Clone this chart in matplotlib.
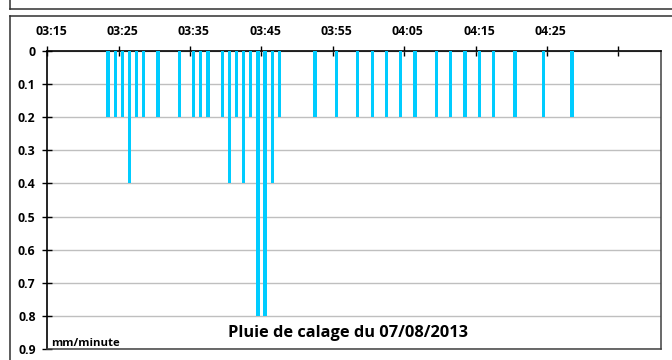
import numpy as np
import matplotlib
matplotlib.use("Agg")
import matplotlib.pyplot as plt
from matplotlib.lines import Line2D

plt.rcParams["font.family"] = ["Open Sans", "DejaVu Sans"]

# rainfall record, one value per minute with rain (mm/minute)
times = ["03:23", "03:24", "03:25", "03:26", "03:27", "03:28", "03:30",
         "03:33", "03:35", "03:36", "03:37", "03:39", "03:40", "03:41",
         "03:42", "03:43", "03:44", "03:45", "03:46", "03:47", "03:52",
         "03:55", "03:58", "04:00", "04:02", "04:04", "04:06", "04:09",
         "04:11", "04:13", "04:15", "04:17", "04:20", "04:24", "04:28"]
rain = [0.2, 0.2, 0.2, 0.4, 0.2, 0.2, 0.2,
        0.2, 0.2, 0.2, 0.2, 0.2, 0.4, 0.2,
        0.4, 0.2, 0.8, 0.8, 0.4, 0.2, 0.2,
        0.2, 0.2, 0.2, 0.2, 0.2, 0.2, 0.2,
        0.2, 0.2, 0.2, 0.2, 0.2, 0.2, 0.2]

start = "03:15"
n_minutes = 86
tick_labels = ["03:15", "03:25", "03:35", "03:45", "03:55", "04:05", "04:15", "04:25"]
y_ticks = [0, 0.1, 0.2, 0.3, 0.4, 0.5, 0.6, 0.7, 0.8, 0.9]
title = "Pluie de calage du 07/08/2013"


def minutes_since(t, ref=start):
    h, m = map(int, t.split(":"))
    h0, m0 = map(int, ref.split(":"))
    return (h * 60 + m) - (h0 * 60 + m0)


x = [minutes_since(t) for t in times]
x_lab = [minutes_since(t) for t in tick_labels]

fig = plt.figure(figsize=(6.72, 3.6), dpi=100)
ax = fig.add_axes([0.0704, 0.0297, 0.9137, 0.8295])

ax.bar(x, rain, width=0.45, color="#00CCFF", zorder=3)

ax.set_xlim(-0.5, n_minutes - 0.5)
ax.set_ylim(0.9, 0)

# time labels on category centres, tick marks between categories
ax.xaxis.tick_top()
ax.set_xticks(x_lab, tick_labels)
ax.set_xticks(np.arange(-0.5, n_minutes, 10), minor=True)
ax.tick_params(axis="x", which="major", length=0, pad=9,
               labelsize=8.8)
ax.tick_params(axis="x", which="minor", direction="inout", length=7,
               width=1, color="black")
for lab in ax.get_xticklabels():
    lab.set_fontweight("bold")

ax.set_yticks(y_ticks, ["%g" % v for v in y_ticks])
ax.tick_params(axis="y", direction="inout", length=7, width=1,
               pad=5, labelsize=8.8)
for lab in ax.get_yticklabels():
    lab.set_fontweight("bold")

ax.grid(axis="y", color="#BFBFBF", lw=1, zorder=0)
ax.grid(axis="x", visible=False)

for side in ["top", "left"]:
    ax.spines[side].set_color("black")
    ax.spines[side].set_linewidth(1.2)
for side in ["right", "bottom"]:
    ax.spines[side].set_color("#404040")
    ax.spines[side].set_linewidth(1.1)

ax.text(0.006, 0.0, "mm/minute", transform=ax.transAxes,
        fontsize=8.2, fontweight="bold", ha="left", va="bottom")
ax.text(0.489, 0.055, title, transform=ax.transAxes,
        fontsize=11.8, fontweight="bold", ha="center", va="center")

# chart frame and the bottom edge of the panel above
frame_col = "#303030"
fig.add_artist(Line2D([0.0149, 0.0149], [0.0, 0.9556], color=frame_col,
                      lw=1.1, transform=fig.transFigure))
fig.add_artist(Line2D([0.0149, 1.0], [0.9556, 0.9556], color=frame_col,
                      lw=1.1, transform=fig.transFigure))
fig.add_artist(Line2D([0.0149, 0.0149], [0.975, 1.0], color=frame_col,
                      lw=1.1, transform=fig.transFigure))
fig.add_artist(Line2D([0.0149, 1.0], [0.975, 0.975], color=frame_col,
                      lw=1.1, transform=fig.transFigure))

fig.savefig("out.png", dpi=100)
